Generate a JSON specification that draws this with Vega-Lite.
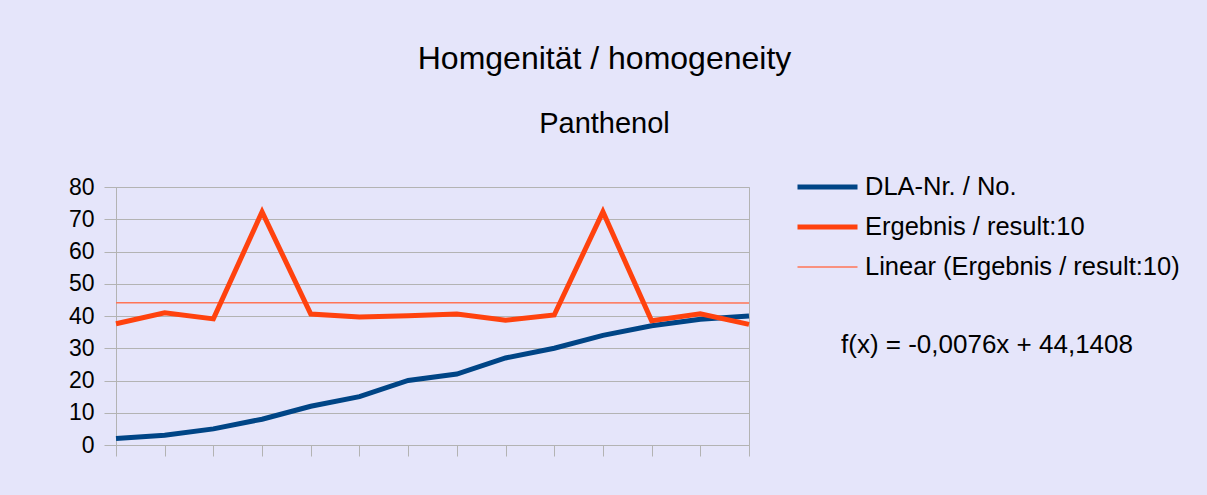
{
  "$schema": "https://vega.github.io/schema/vega-lite/v6.json",
  "width": 633,
  "height": 258,
  "padding": {"left": 68, "top": 43, "right": 39, "bottom": 38},
  "background": "#e5e5fa",
  "config": {
    "font": "Liberation Sans",
    "view": {"stroke": "#b3b3b3", "strokeWidth": 1},
    "axis": {"gridColor": "#b3b3b3", "domainColor": "#b3b3b3", "tickColor": "#b3b3b3"}
  },
  "title": {
    "text": "Homgenität / homogeneity",
    "subtitle": "Panthenol",
    "anchor": "middle",
    "dx": 172,
    "fontSize": 32,
    "fontWeight": "normal",
    "color": "#000000",
    "subtitleFontSize": 29,
    "subtitleColor": "#000000",
    "subtitlePadding": 34,
    "offset": 33
  },
  "datasets": {
    "series": [
      {"i": 1, "series": "DLA-Nr. / No.", "v": 2},
      {"i": 2, "series": "DLA-Nr. / No.", "v": 3},
      {"i": 3, "series": "DLA-Nr. / No.", "v": 5},
      {"i": 4, "series": "DLA-Nr. / No.", "v": 8},
      {"i": 5, "series": "DLA-Nr. / No.", "v": 12},
      {"i": 6, "series": "DLA-Nr. / No.", "v": 15},
      {"i": 7, "series": "DLA-Nr. / No.", "v": 20},
      {"i": 8, "series": "DLA-Nr. / No.", "v": 22},
      {"i": 9, "series": "DLA-Nr. / No.", "v": 27},
      {"i": 10, "series": "DLA-Nr. / No.", "v": 30},
      {"i": 11, "series": "DLA-Nr. / No.", "v": 34},
      {"i": 12, "series": "DLA-Nr. / No.", "v": 37},
      {"i": 13, "series": "DLA-Nr. / No.", "v": 39},
      {"i": 14, "series": "DLA-Nr. / No.", "v": 40},
      {"i": 1, "series": "Ergebnis / result:10", "v": 37.6},
      {"i": 2, "series": "Ergebnis / result:10", "v": 41.0},
      {"i": 3, "series": "Ergebnis / result:10", "v": 39.1},
      {"i": 4, "series": "Ergebnis / result:10", "v": 72.3},
      {"i": 5, "series": "Ergebnis / result:10", "v": 40.6},
      {"i": 6, "series": "Ergebnis / result:10", "v": 39.7},
      {"i": 7, "series": "Ergebnis / result:10", "v": 40.1},
      {"i": 8, "series": "Ergebnis / result:10", "v": 40.6},
      {"i": 9, "series": "Ergebnis / result:10", "v": 38.7},
      {"i": 10, "series": "Ergebnis / result:10", "v": 40.3},
      {"i": 11, "series": "Ergebnis / result:10", "v": 72.3},
      {"i": 12, "series": "Ergebnis / result:10", "v": 38.5},
      {"i": 13, "series": "Ergebnis / result:10", "v": 40.7},
      {"i": 14, "series": "Ergebnis / result:10", "v": 37.4}
    ],
    "trend": [
      {"i": 1, "series": "Linear (Ergebnis / result:10)", "v": 44.133},
      {"i": 14, "series": "Linear (Ergebnis / result:10)", "v": 44.035}
    ]
  },
  "encoding": {
    "x": {
      "field": "i",
      "type": "ordinal",
      "scale": {"type": "point", "padding": 0, "domain": [1,2,3,4,5,6,7,8,9,10,11,12,13,14]},
      "axis": {"labels": false, "title": null, "grid": false, "ticks": true, "tickSize": 11, "domain": true}
    },
    "y": {
      "field": "v",
      "type": "quantitative",
      "scale": {"domain": [0, 80], "nice": false},
      "axis": {"values": [0,10,20,30,40,50,60,70,80], "labelOverlap": false, "title": null, "tickSize": 12, "labelPadding": 10, "labelFontSize": 23, "labelColor": "#000000", "domain": true, "grid": true}
    },
    "color": {
      "field": "series",
      "type": "nominal",
      "scale": {
        "domain": ["DLA-Nr. / No.", "Ergebnis / result:10", "Linear (Ergebnis / result:10)"],
        "range": ["#004586", "#ff420e", "#ff7556"]
      },
      "legend": {
        "orient": "none", "legendX": 679, "legendY": -14,
        "title": "f(x) = -0,0076x + 44,1408", "titleLimit": 600,
        "titleOrient": "bottom", "titleAnchor": "middle", "titlePadding": 51,
        "titleFontSize": 26, "titleFontWeight": "normal", "titleColor": "#000000",
        "labelFontSize": 25.5, "labelColor": "#000000", "labelLimit": 500,
        "symbolType": "stroke", "symbolSize": 3600, "clipHeight": 28, "rowPadding": 12,
        "labelOffset": 5, "padding": 0
      }
    },
    "strokeWidth": {
      "field": "series",
      "type": "nominal",
      "scale": {
        "type": "ordinal",
        "domain": ["DLA-Nr. / No.", "Ergebnis / result:10", "Linear (Ergebnis / result:10)"],
        "range": [5, 5, 1.5]
      },
      "legend": {
        "orient": "none", "legendX": 679, "legendY": -14,
        "title": "f(x) = -0,0076x + 44,1408", "titleLimit": 600,
        "titleOrient": "bottom", "titleAnchor": "middle", "titlePadding": 51,
        "titleFontSize": 26, "titleFontWeight": "normal", "titleColor": "#000000",
        "labelFontSize": 25.5, "labelColor": "#000000", "labelLimit": 500,
        "symbolType": "stroke", "symbolSize": 3600, "clipHeight": 28, "rowPadding": 12,
        "labelOffset": 5, "padding": 0
      }
    }
  },
  "layer": [
    {"data": {"name": "trend"}, "mark": {"type": "line"}},
    {"data": {"name": "series"}, "mark": {"type": "line"}}
  ]
}
